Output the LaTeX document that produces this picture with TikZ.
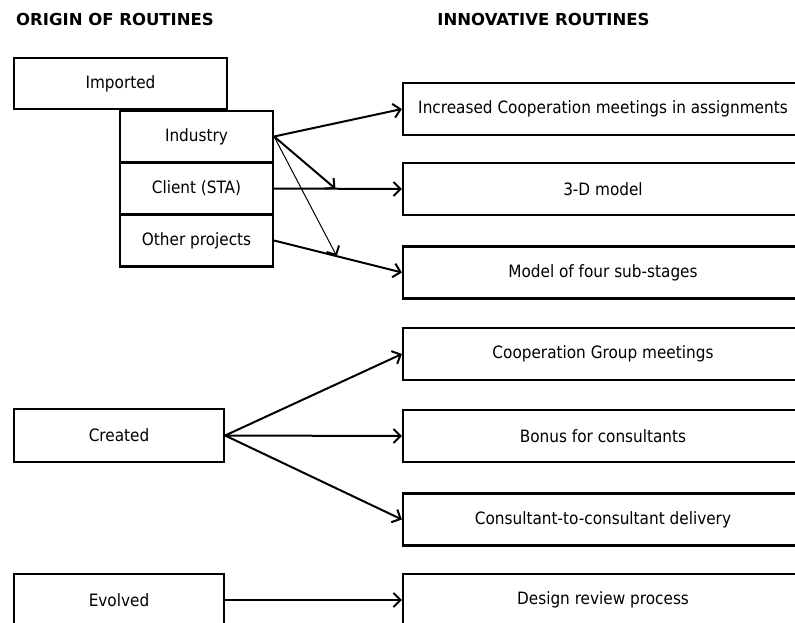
\documentclass[tikz,border=0pt]{standalone}
\usepackage{fontspec}
\setmainfont{DejaVu Sans Condensed}
\newfontfamily\headfont{DejaVu Sans}
\usetikzlibrary{positioning,arrows.meta}

\tikzset{
  box/.style={draw,line width=2.2pt,inner sep=0pt,minimum height=52pt,
    font=\fontsize{17}{19}\selectfont},
  rbox/.style={box,minimum width=400pt},
  head/.style={font=\headfont\bfseries\fontsize{16.5}{18}\selectfont,inner sep=0pt},
  link/.style={-{Straight Barb[length=7pt,width=14pt,line width=2pt]},line width=2pt},
}

\begin{document}
\begin{tikzpicture}[x=1pt,y=-1pt]
\useasboundingbox (0,0) rectangle (795,623);

\node[head,anchor=west] (origin) at (16,19.5) {ORIGIN OF ROUTINES};
\node[head] (innov) at (543.5,19.5) {INNOVATIVE ROUTINES};

% origin side
\node[box,minimum width=213pt,minimum height=51pt] (imported) at (120.5,83.5) {Imported};
\node[box,minimum width=153pt,minimum height=51pt] (industry) at (196.5,136.5) {Industry};
\node[box,minimum width=153pt] (client) at (196.5,188.5) {Client (STA)};
\node[box,minimum width=153pt] (other) at (196.5,240.5) {Other projects};
\node[box,minimum width=210pt,minimum height=53pt] (created) at (119,435.5) {Created};
\node[box,minimum width=210pt] (evolved) at (119,600) {Evolved};

% innovative routines
\foreach \n/\y/\txt in {r1/109/Increased Cooperation meetings in assignments,
    r2/189/3-D model, r3/272.5/Model of four sub-stages,
    r4/354/Cooperation Group meetings, r5/436/Bonus for consultants,
    r6/519.5/Consultant-to-consultant delivery, r7/600/Design review process} {
    \node[rbox] (\n) at (603,\y) {\txt};
}

\draw[link] (industry.east) -- (r1.west);
\draw[link] (client.east) -- coordinate[pos=0.48] (midclient) (r2.west);
\draw[link] (other.east) -- coordinate[pos=0.49] (midother) (r3.west);
\draw[link] (industry.east) -- (midclient);
\draw[link,line width=1pt] (industry.east) -- (midother);

\foreach \r in {r4,r5,r6} {
    \draw[link] (created.east) -- (\r.west);
}
\draw[link] (evolved.east) -- (r7.west);
\end{tikzpicture}
\end{document}
